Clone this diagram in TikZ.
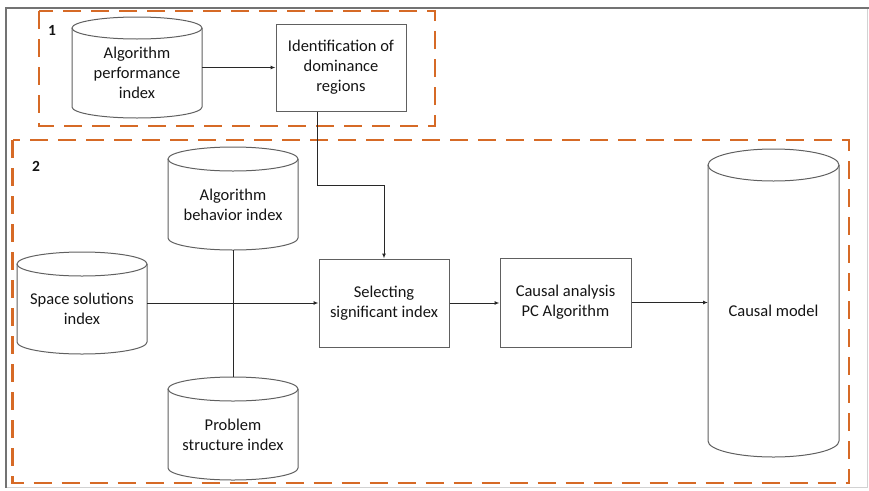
\documentclass[tikz,border=0pt]{standalone}
\usepackage{fontspec}
\setmainfont{Carlito}
\usetikzlibrary{arrows.meta,calc}

\definecolor{frameorange}{RGB}{214,106,38}
\definecolor{shapegray}{RGB}{96,96,96}
\definecolor{linedark}{RGB}{40,40,40}
\definecolor{textdark}{RGB}{20,20,20}

\tikzset{
  procbox/.style={draw=shapegray, line width=1pt, rectangle, align=center,
    text=textdark, font=\fontsize{16.5}{20}\selectfont, inner sep=0pt},
  cylbody/.style={rectangle, align=center, text=textdark,
    font=\fontsize{16.5}{20}\selectfont, inner sep=0pt},
  cylline/.style={draw=shapegray, line width=1pt},
  groupbox/.style={draw=frameorange, line width=2.6pt, dash pattern=on 18pt off 10pt},
  arr/.style={draw=linedark, line width=1pt, -{Latex[length=5pt,width=4pt]}},
  plain/.style={draw=linedark, line width=1pt},
  grouplabel/.style={font=\fontsize{15.5}{19.5}\selectfont\bfseries, text=textdark}
}

% cylinder: name, x1, y1, x2, y2, ellipse half-height, text
\newcommand\cylnode[7]{%
  \pgfmathsetmacro\cylcx{(#2+#4)/2}%
  \pgfmathsetmacro\cylcy{(#3+#5)/2}%
  \pgfmathsetmacro\cylrx{(#4-#2)/2}%
  \pgfmathsetmacro\cylw{#4-#2}%
  \pgfmathsetmacro\cylh{#5-#3}%
  \path[cylline] (#2,#3+#6) -- (#2,#5-#6)
     arc[start angle=180, end angle=360, x radius=\cylrx pt, y radius=#6 pt]
     -- (#4,#3+#6);
  \path[cylline] (\cylcx,#3+#6) ellipse [x radius=\cylrx pt, y radius=#6 pt];
  \node[cylbody, minimum width=\cylw pt, minimum height=\cylh pt] (#1)
     at (\cylcx,\cylcy+#6*0.5) {};
  \node[cylbody] at (\cylcx,\cylcy+#6*0.5) {#7};
  \coordinate (#1-top) at (\cylcx,#3);
  \coordinate (#1-bottom) at (\cylcx,#5);
  \coordinate (#1-right) at (#4,\cylcy);
  \coordinate (#1-left) at (#2,\cylcy);
}

\begin{document}
\begin{tikzpicture}[x=1pt,y=-1pt]
  \useasboundingbox (0,0) rectangle (869,490);

  % outer frame
  \draw[gray!35, line width=1pt] (6,7.5) rectangle (867,487.5);
  \draw[gray!90!black, line width=2pt] (6,487.5) -- (6,7.5) -- (869,7.5);

  % group frames
  \draw[groupbox] (39,11) rectangle (435,126);
  \draw[groupbox] (12.5,140) rectangle (849,483);
  \node[grouplabel] (lab1) at (52,30) {1};
  \node[grouplabel] (lab2) at (36,166) {2};

  % stage 1
  \cylnode{perf}{72}{17}{202}{118}{11}{Algorithm\\performance\\index}
  \node[procbox, minimum width=130pt, minimum height=87pt] (ident)
     at (341,67.5) {Identification of\\dominance\\regions};

  % stage 2
  \cylnode{behav}{168}{147}{298}{250}{12}{Algorithm\\behavior index}
  \cylnode{space}{17}{252}{147}{354}{12}{Space solutions\\index}
  \cylnode{prob}{168}{377}{298}{480}{12}{Problem\\structure index}
  \node[procbox, minimum width=130pt, minimum height=88pt] (sel)
     at (384,303) {Selecting\\significant index};
  \node[procbox, minimum width=131pt, minimum height=89pt] (caus)
     at (565.5,302.5) {Causal analysis\\PC Algorithm};
  \cylnode{model}{708}{149}{839}{457}{16}{Causal model}

  % connectors
  \draw[arr] (perf-right |- ident.west) -- (ident.west);
  \draw[arr] ([xshift=42pt]ident.south west) -- ++(0,74) -| (sel.north);
  \draw[plain] (behav-bottom) -- (prob-top);
  \draw[arr] (space-right |- sel.west) -- (sel.west);
  \draw[arr] (sel.east) -- (sel.east -| caus.west);
  \draw[arr] (caus.east) -- (caus.east -| model-left);
\end{tikzpicture}
\end{document}
